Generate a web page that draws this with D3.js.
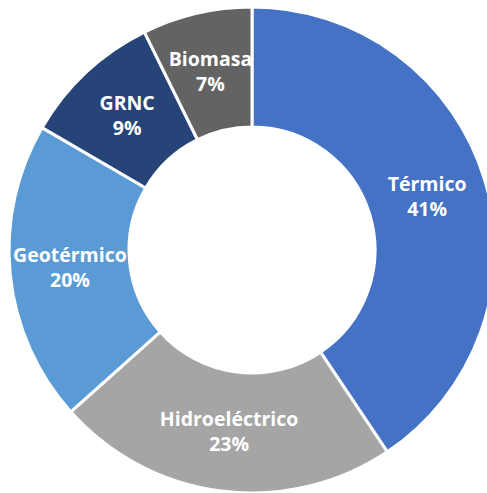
<!DOCTYPE html>
<html>
<head>
<meta charset="utf-8">
<script src="https://cdn.jsdelivr.net/npm/d3@7"></script>
<style>
  body { margin: 0; background: #fff; }
  svg { display: block; }
</style>
</head>
<body>
<svg width="487" height="493"></svg>
<script>
const width = 487;
const height = 493;

const categories = ["Térmico", "Hidroeléctrico", "Geotérmico", "GRNC", "Biomasa"];
const values = [40.6, 22.8, 20.0, 9.3, 7.3];
const pctLabels = ["41%", "23%", "20%", "9%", "7%"];
const colors = ["#4472C4", "#A5A5A5", "#5B9BD5", "#264478", "#636363"];

const cx = 252, cy = 250;
const outerR = 243, innerR = 123;

const data = categories.map((c, i) => ({ name: c, value: values[i], pct: pctLabels[i], color: colors[i] }));

const pie = d3.pie()
  .value(d => d.value)
  .sort(null);

const arc = d3.arc()
  .innerRadius(innerR)
  .outerRadius(outerR);

const svg = d3.select("svg");
const g = svg.append("g").attr("transform", `translate(${cx},${cy})`);

const arcs = pie(data);

g.selectAll("path")
  .data(arcs)
  .join("path")
  .attr("d", arc)
  .attr("fill", d => d.data.color)
  .attr("stroke", "#fff")
  .attr("stroke-width", 3);

const label = g.selectAll("text")
  .data(arcs)
  .join("text")
  .attr("transform", d => `translate(${arc.centroid(d)})`)
  .attr("text-anchor", "middle")
  .attr("fill", "#fff")
  .style("font-family", "'Open Sans', sans-serif")
  .style("font-weight", "700")
  .style("font-size", "19.5px");

label.append("tspan")
  .attr("x", 0)
  .attr("y", -6)
  .text(d => d.data.name);

label.append("tspan")
  .attr("x", 0)
  .attr("y", 19)
  .text(d => d.data.pct);
</script>
</body>
</html>
